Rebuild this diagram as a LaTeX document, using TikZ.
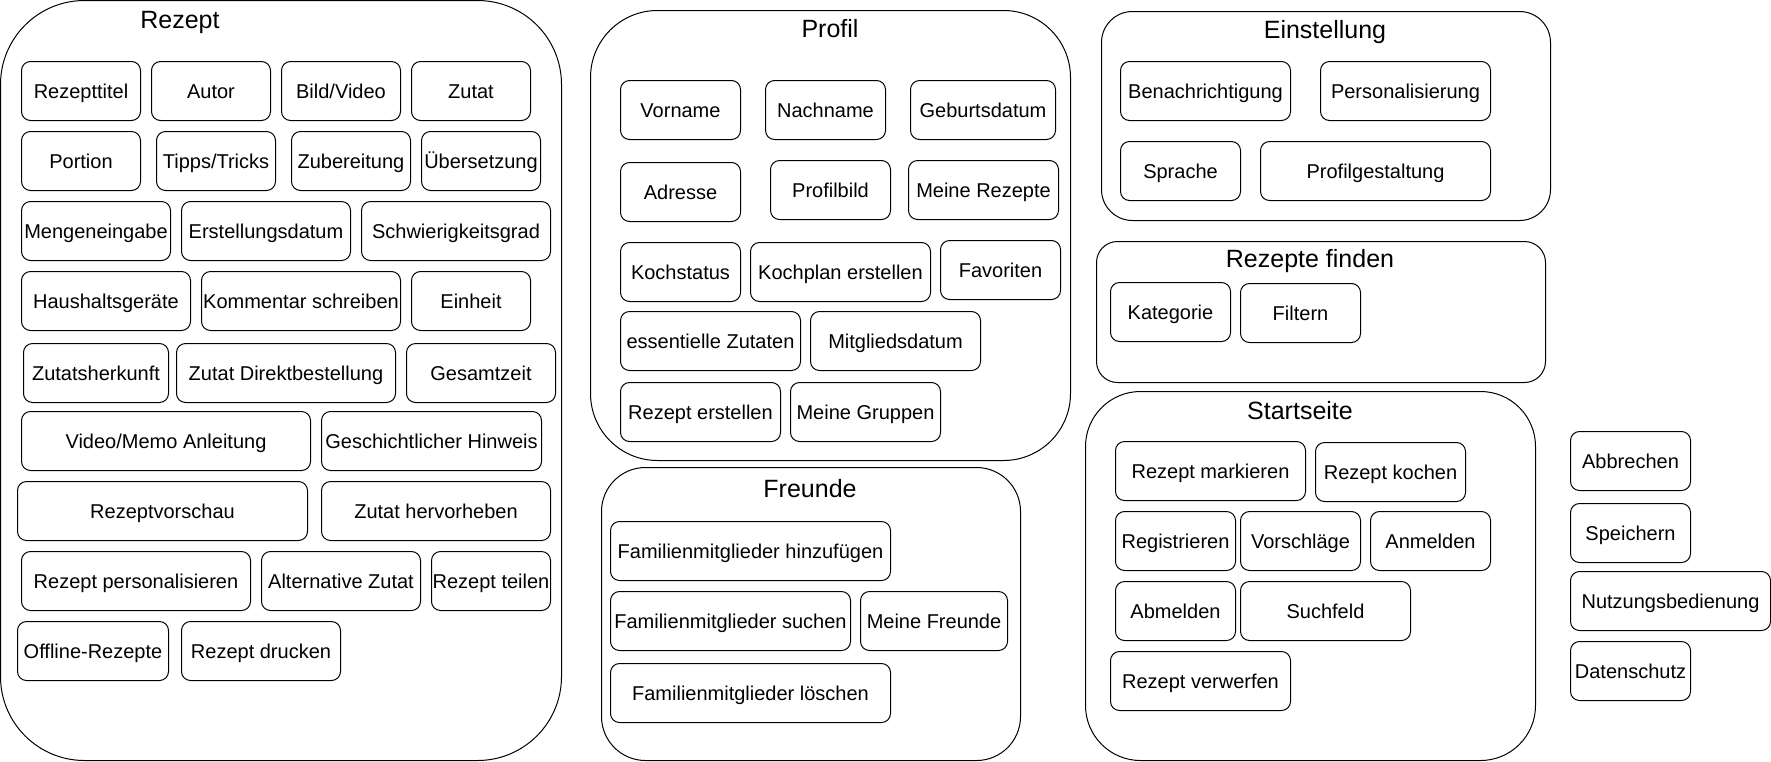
\documentclass[tikz,border=0pt]{standalone}
\usepackage{fontspec}
\setmainfont{Liberation Sans}
\newlength\pxu
\setlength\pxu{0.5pt}
\newcommand\itemfont{\fontsize{10}{12}\selectfont}
\newcommand\groupfont{\fontsize{12.5}{14}\selectfont}

\begin{document}
\begin{tikzpicture}[x=\pxu, y=-\pxu, line width=0.5pt,
    group/.style={draw, anchor=north west, inner sep=0pt},
    grouptitle/.style={inner sep=0pt, font=\groupfont, text height=0.716em, text depth=0pt},
    item/.style={draw, rounded corners=9\pxu, anchor=north west, inner sep=0pt,
        minimum height=59\pxu, minimum width=#1\pxu, font=\itemfont,
        text height=0.716em, text depth=0pt},
    item/.default=120]
    \useasboundingbox (0,0) rectangle (1771,761);

    % Rezept
    \node[group, rounded corners=84\pxu, minimum width=561\pxu, minimum height=760\pxu] (rezept) at (0,0) {};
    \node[grouptitle] (rezeptT) at (180,21) {Rezept};
    \node[item=119] (rezepttitel) at (21,61) {Rezepttitel};
    \node[item=119] (autor) at (151,61) {Autor};
    \node[item=119] (bildvideo) at (281,61) {Bild/Video};
    \node[item=119] (zutat) at (411,61) {Zutat};
    \node[item=119] (portion) at (21,131) {Portion};
    \node[item=119] (tipps) at (156,131) {Tipps/Tricks};
    \node[item=119] (zubereitung) at (291,131) {Zubereitung};
    \node[item=119] (uebersetzung) at (421,131) {Übersetzung};
    \node[item=149] (menge) at (21,201) {Mengeneingabe};
    \node[item=169] (erstellung) at (181,201) {Erstellungsdatum};
    \node[item=189] (schwierigkeit) at (361,201) {Schwierigkeitsgrad};
    \node[item=169] (haushalt) at (21,271) {Haushaltsgeräte};
    \node[item=199] (kommentar) at (201,271) {Kommentar schreiben};
    \node[item=119] (einheit) at (411,271) {Einheit};
    \node[item=145] (herkunft) at (23,343) {Zutatsherkunft};
    \node[item=219] (direkt) at (176,343) {Zutat Direktbestellung};
    \node[item=149] (gesamtzeit) at (406,343) {Gesamtzeit};
    \node[item=289] (anleitung) at (21,411) {Video/Memo Anleitung};
    \node[item=220] (hinweis) at (321,411) {Geschichtlicher Hinweis};
    \node[item=290] (vorschau) at (17,481) {Rezeptvorschau};
    \node[item=229] (hervorheben) at (321,481) {Zutat hervorheben};
    \node[item=229] (personalisieren) at (21,551) {Rezept personalisieren};
    \node[item=159] (alternative) at (261,551) {Alternative Zutat};
    \node[item=119] (teilen) at (431,551) {Rezept teilen};
    \node[item=151] (offline) at (17,621) {Offline-Rezepte};
    \node[item=159] (drucken) at (181,621) {Rezept drucken};

    % Profil
    \node[group, rounded corners=67\pxu, minimum width=480\pxu, minimum height=450\pxu] (profil) at (590,10) {};
    \node[grouptitle] (profilT) at (830,30) {Profil};
    \node[item] (vorname) at (620,80) {Vorname};
    \node[item] (nachname) at (765,80) {Nachname};
    \node[item=145] (geburtsdatum) at (910,80) {Geburtsdatum};
    \node[item] (adresse) at (620,162) {Adresse};
    \node[item] (profilbild) at (770,160) {Profilbild};
    \node[item=150] (meinerezepte) at (908,160) {Meine Rezepte};
    \node[item] (kochstatus) at (620,242) {Kochstatus};
    \node[item=180] (kochplan) at (750,242) {Kochplan erstellen};
    \node[item] (favoriten) at (940,240) {Favoriten};
    \node[item=180] (essentielle) at (620,311) {essentielle Zutaten};
    \node[item=170] (mitgliedsdatum) at (810,311) {Mitgliedsdatum};
    \node[item=160] (rezepterstellen) at (620,382) {Rezept erstellen};
    \node[item=150] (gruppen) at (790,382) {Meine Gruppen};

    % Freunde
    \node[group, rounded corners=44\pxu, minimum width=419\pxu, minimum height=293\pxu] (freunde) at (601,467) {};
    \node[grouptitle] (freundeT) at (810,490) {Freunde};
    \node[item=280] (hinzufuegen) at (610,521) {Familienmitglieder hinzufügen};
    \node[item=240] (suchen) at (610,591) {Familienmitglieder suchen};
    \node[item=147] (meinefreunde) at (860,591) {Meine Freunde};
    \node[item=280] (loeschen) at (610,663) {Familienmitglieder löschen};

    % Einstellung
    \node[group, rounded corners=31\pxu, minimum width=449\pxu, minimum height=209\pxu] (einstellung) at (1101,11) {};
    \node[grouptitle] (einstellungT) at (1325,31) {Einstellung};
    \node[item=170] (benachrichtigung) at (1120,61) {Benachrichtigung};
    \node[item=170] (personalisierung) at (1320,61) {Personalisierung};
    \node[item] (sprache) at (1120,141) {Sprache};
    \node[item=230] (profilgestaltung) at (1260,141) {Profilgestaltung};

    % Rezepte finden
    \node[group, rounded corners=21\pxu, minimum width=449\pxu, minimum height=141\pxu] (finden) at (1096,241) {};
    \node[grouptitle] (findenT) at (1310,260) {Rezepte finden};
    \node[item] (kategorie) at (1110,282) {Kategorie};
    \node[item] (filtern) at (1240,283) {Filtern};

    % Startseite
    \node[group, rounded corners=55\pxu, minimum width=450\pxu, minimum height=369\pxu] (startseite) at (1085,391) {};
    \node[grouptitle] (startseiteT) at (1300,412) {Startseite};
    \node[item=190] (markieren) at (1115,441) {Rezept markieren};
    \node[item=150] (kochen) at (1315,442) {Rezept kochen};
    \node[item] (registrieren) at (1115,511) {Registrieren};
    \node[item] (vorschlaege) at (1240,511) {Vorschläge};
    \node[item] (anmelden) at (1370,511) {Anmelden};
    \node[item] (abmelden) at (1115,581) {Abmelden};
    \node[item=170] (suchfeld) at (1240,581) {Suchfeld};
    \node[item=180] (verwerfen) at (1110,651) {Rezept verwerfen};

    % lose Elemente
    \node[item] (abbrechen) at (1570,431) {Abbrechen};
    \node[item] (speichern) at (1570,503) {Speichern};
    \node[item=200] (nutzung) at (1570,571) {Nutzungsbedienung};
    \node[item] (datenschutz) at (1570,641) {Datenschutz};
\end{tikzpicture}
\end{document}
